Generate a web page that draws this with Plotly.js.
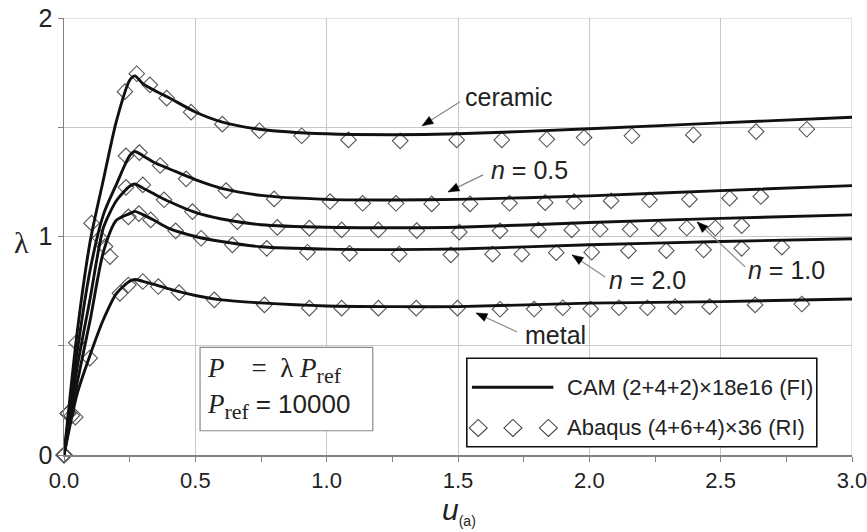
<!DOCTYPE html>
<html>
<head>
<meta charset="utf-8">
<script src="https://cdn.plot.ly/plotly-3.0.1.min.js"></script>
<style>html,body{margin:0;padding:0;background:#fff;}#chart{width:867px;height:532px;}</style>
</head>
<body>
<div id="chart"></div>
<script>
// ---- data ----
const camU = [0, 0.05, 0.1, 0.15, 0.2, 0.25, 0.27, 0.3, 0.35, 0.4, 0.5, 0.6, 0.75, 1.0, 1.25, 1.5, 2.0, 2.5, 3.0];
const camCeramic = [0, 0.56, 0.98, 1.26, 1.53, 1.715, 1.735, 1.70, 1.665, 1.635, 1.57, 1.525, 1.49, 1.47, 1.466, 1.47, 1.493, 1.52, 1.546];
const camN05 = [0, 0.47, 0.85, 1.10, 1.24, 1.37, 1.389, 1.37, 1.335, 1.31, 1.26, 1.22, 1.188, 1.17, 1.167, 1.17, 1.186, 1.21, 1.233];
const camN10 = [0, 0.40, 0.72, 1.04, 1.165, 1.23, 1.24, 1.222, 1.19, 1.16, 1.11, 1.08, 1.054, 1.042, 1.04, 1.042, 1.064, 1.083, 1.099];
const camN20 = [0, 0.33, 0.62, 0.93, 1.075, 1.105, 1.115, 1.10, 1.07, 1.037, 1.0, 0.977, 0.953, 0.942, 0.94, 0.943, 0.962, 0.977, 0.99];
const camMetal = [0, 0.28, 0.46, 0.62, 0.74, 0.795, 0.803, 0.795, 0.779, 0.76, 0.73, 0.71, 0.696, 0.682, 0.679, 0.679, 0.695, 0.702, 0.714];

const abqCeramicU = [0, 0.015, 0.047, 0.105, 0.232, 0.277, 0.327, 0.391, 0.484, 0.603, 0.744, 0.905, 1.083, 1.28, 1.495, 1.667, 1.838, 1.98, 2.162, 2.396, 2.635, 2.828];
const abqCeramicL = [0, 0.19, 0.514, 1.061, 1.663, 1.745, 1.694, 1.633, 1.569, 1.514, 1.484, 1.461, 1.442, 1.438, 1.442, 1.442, 1.445, 1.453, 1.461, 1.465, 1.48, 1.491];
const abqN05U = [0, 0.015, 0.137, 0.236, 0.287, 0.366, 0.465, 0.617, 0.8, 1.013, 1.137, 1.264, 1.4, 1.546, 1.696, 1.832, 1.942, 2.083, 2.229, 2.381, 2.534, 2.653];
const abqN05L = [0, 0.19, 0.993, 1.369, 1.384, 1.325, 1.264, 1.21, 1.172, 1.16, 1.152, 1.152, 1.149, 1.149, 1.152, 1.155, 1.16, 1.163, 1.168, 1.17, 1.175, 1.183];
const abqN10U = [0, 0.015, 0.156, 0.236, 0.3, 0.381, 0.489, 0.66, 0.812, 0.934, 1.057, 1.197, 1.343, 1.505, 1.66, 1.806, 1.933, 2.041, 2.155, 2.263, 2.371, 2.48, 2.58];
const abqN10L = [0, 0.19, 0.954, 1.225, 1.236, 1.168, 1.114, 1.068, 1.042, 1.038, 1.03, 1.03, 1.027, 1.02, 1.026, 1.03, 1.03, 1.033, 1.033, 1.036, 1.039, 1.039, 1.05];
const abqN20U = [0, 0.03, 0.175, 0.245, 0.285, 0.33, 0.425, 0.522, 0.641, 0.772, 0.927, 1.087, 1.276, 1.473, 1.632, 1.743, 1.874, 2.009, 2.149, 2.293, 2.435, 2.58, 2.733];
const abqN20L = [0, 0.18, 0.908, 1.09, 1.105, 1.076, 1.026, 0.992, 0.962, 0.946, 0.928, 0.923, 0.919, 0.916, 0.919, 0.919, 0.926, 0.928, 0.935, 0.935, 0.939, 0.946, 0.951];
const abqMetalU = [0, 0.043, 0.098, 0.213, 0.245, 0.3, 0.359, 0.438, 0.572, 0.763, 0.934, 1.057, 1.197, 1.341, 1.498, 1.66, 1.79, 1.899, 2.005, 2.113, 2.221, 2.327, 2.458, 2.631, 2.809];
const abqMetalL = [0, 0.173, 0.443, 0.74, 0.778, 0.794, 0.771, 0.743, 0.71, 0.687, 0.672, 0.672, 0.672, 0.672, 0.672, 0.667, 0.668, 0.674, 0.668, 0.674, 0.674, 0.679, 0.679, 0.687, 0.691];

const xTickVals = [0, 0.5, 1.0, 1.5, 2.0, 2.5, 3.0];
const yTickVals = [0, 1, 2];
const yTickText = ['0', '1', '2'];
const legendNames = ['CAM (2+4+2)×18e16 (FI)', 'Abaqus (4+6+4)×36 (RI)'];
const curveLabels = ['ceramic', '<i>n</i> = 0.5', '<i>n</i> = 1.0', '<i>n</i> = 2.0', 'metal'];

// ---- traces ----
const SANS = 'Liberation Sans, Arial, sans-serif';
const SERIF = 'Liberation Serif, Times New Roman, serif';
const abq = [[abqCeramicU, abqCeramicL], [abqN05U, abqN05L], [abqN10U, abqN10L], [abqN20U, abqN20L], [abqMetalU, abqMetalL]];
const cam = [camCeramic, camN05, camN10, camN20, camMetal];
const traces = [];
abq.forEach(function (d) {
  traces.push({
    x: d[0], y: d[1], type: 'scatter', mode: 'markers', showlegend: false, cliponaxis: false,
    marker: {symbol: 'diamond-open', size: 12, color: '#555', line: {width: 1.1, color: '#555'}}
  });
});
cam.forEach(function (v) {
  traces.push({
    x: camU, y: v, type: 'scatter', mode: 'lines', showlegend: false,
    line: {color: '#111', width: 2.9, shape: 'spline', smoothing: 0.7}
  });
});

// ---- plot geometry helpers (px per data unit) ----
const PX_X = 788 / 3, PX_Y = 437 / 2;

const ann = [];
const shapes = [
  // top & right frame (light grey like the grid)
  {type: 'line', xref: 'x', yref: 'y', x0: 0, x1: 3, y0: 2, y1: 2, layer: 'between', line: {color: '#c8c8c8', width: 1}},
  {type: 'line', xref: 'x', yref: 'y', x0: 3, x1: 3, y0: 0, y1: 2, layer: 'between', line: {color: '#c8c8c8', width: 1}},
  // P box
  {type: 'rect', xref: 'x', yref: 'y', x0: 0.518, x1: 1.1755, y0: 0.111, y1: 0.493, layer: 'between',
   fillcolor: '#fff', line: {color: '#8a8a8a', width: 1.2}},
  // legend box
  {type: 'rect', xref: 'x', yref: 'y', x0: 1.5335, x1: 2.866, y0: 0.038, y1: 0.4428, layer: 'between',
   fillcolor: '#fff', line: {color: '#111', width: 1.6}},
  {type: 'line', xref: 'x', yref: 'y', x0: 1.553, x1: 1.863, y0: 0.31, y1: 0.31, layer: 'above',
   line: {color: '#111', width: 2.9}}
];
[1.577, 1.709, 1.844].forEach(function (cx) {
  shapes.push({type: 'path', xref: 'x', yref: 'y', xsizemode: 'pixel', ysizemode: 'pixel',
    xanchor: cx, yanchor: 0.124, path: 'M-9,0L0,-8.5L9,0L0,8.5Z', layer: 'above',
    fillcolor: 'rgba(0,0,0,0)', line: {color: '#444', width: 1.1}});
});

// curve labels with leader line + black triangular head
function label(text, tx, ty, tipx, tipy, ax, ay) {
  ann.push({x: tx, y: ty, xref: 'x', yref: 'y', text: text, showarrow: false,
    font: {family: SANS, size: 25, color: '#222'}, xanchor: 'center', yanchor: 'middle'});
  // leader line (ax, ay: screen px offset of tail from tip, y down)
  shapes.push({type: 'line', xref: 'x', yref: 'y', layer: 'above',
    x0: tipx, y0: tipy, x1: tipx + ax / PX_X, y1: tipy - ay / PX_Y,
    line: {color: '#888', width: 1.2}});
  // head: pixel path anchored at tip, y up
  const L = Math.sqrt(ax * ax + ay * ay);
  const ux = -ax / L, uy = ay / L;         // direction tail->tip, y up
  const px = -uy, py = ux;
  const bx = -ux * 11, by = -uy * 11, w = 4.2;
  const p = 'M0,0L' + (bx + px * w).toFixed(2) + ',' + (by + py * w).toFixed(2) +
            'L' + (bx - px * w).toFixed(2) + ',' + (by - py * w).toFixed(2) + 'Z';
  shapes.push({type: 'path', xref: 'x', yref: 'y', xsizemode: 'pixel', ysizemode: 'pixel',
    xanchor: tipx, yanchor: tipy, path: p, layer: 'above', fillcolor: '#000', line: {color: '#000', width: 0.5}});
}
label(curveLabels[0], 1.6946, 1.639, 1.3633, 1.5064, 38, -24);
label(curveLabels[1], 1.7708, 1.305, 1.4623, 1.2042, 35, -17);
label(curveLabels[2], 2.7494, 0.847, 2.4105, 1.0668, 48, 45);
label(curveLabels[3], 2.222, 0.801, 1.9345, 0.9158, 33, 22);
label(curveLabels[4], 1.8698, 0.549, 1.5689, 0.6502, 41, 19);

// P box text
ann.push({x: 0.537, y: 0.385, xref: 'x', yref: 'y', xanchor: 'left', yanchor: 'middle', showarrow: false,
  font: {family: SERIF, size: 27, color: '#222'},
  text: '<i>P</i>\u00a0\u00a0\u00a0\u00a0=\u00a0\u00a0λ <i>P</i><sub><span style="font-size:22px">ref</span></sub>'});
ann.push({x: 0.537, y: 0.22, xref: 'x', yref: 'y', xanchor: 'left', yanchor: 'middle', showarrow: false,
  font: {family: SERIF, size: 27, color: '#222'},
  text: '<i>P</i><sub><span style="font-size:22px">ref</span></sub> <span style="font-family:Liberation Sans, Arial;font-size:26px">= 10000</span>'});

// legend text
ann.push({x: 1.906, y: 0.31, xref: 'x', yref: 'y', xanchor: 'left', yanchor: 'middle', showarrow: false,
  font: {family: SANS, size: 22, color: '#222'}, text: legendNames[0]});
ann.push({x: 1.906, y: 0.124, xref: 'x', yref: 'y', xanchor: 'left', yanchor: 'middle', showarrow: false,
  font: {family: SANS, size: 22, color: '#222'}, text: legendNames[1]});

// axis titles
ann.push({x: -0.0533, y: 0.487, xref: 'paper', yref: 'paper', xanchor: 'center', yanchor: 'middle', showarrow: false,
  font: {family: SERIF, size: 30, color: '#222'}, text: 'λ'});
ann.push({x: 0.501, y: -0.128, xref: 'paper', yref: 'paper', xanchor: 'center', yanchor: 'middle', showarrow: false,
  font: {family: SANS, size: 30, color: '#222'}, text: '<i>u</i><sub><span style="font-size:14px">(a)</span></sub>'});

const layout = {
  width: 867, height: 532,
  margin: {l: 64, r: 15, t: 18, b: 77},
  paper_bgcolor: '#fff', plot_bgcolor: '#fff',
  showlegend: false,
  xaxis: {
    range: [0, 3], tickvals: xTickVals, tickformat: '.1f', ticklabeloverflow: 'allow',
    showgrid: true, gridcolor: '#c8c8c8', gridwidth: 1,
    showline: true, linecolor: '#808080', linewidth: 1.5, zeroline: false,
    ticks: 'outside', ticklen: 5, tickcolor: '#808080', tickwidth: 1,
    tickfont: {family: SANS, size: 22, color: '#222'},
    minor: {dtick: 0.25, tick0: 0, ticks: 'outside', ticklen: 5, tickcolor: '#808080', showgrid: false},
    fixedrange: true
  },
  yaxis: {
    range: [0, 2], tickvals: yTickVals, ticktext: yTickText, ticklabeloverflow: 'allow',
    showgrid: true, gridcolor: '#c8c8c8', gridwidth: 1,
    showline: true, linecolor: '#808080', linewidth: 1.5, zeroline: false,
    ticks: 'outside', ticklen: 5, tickcolor: '#808080', tickwidth: 1,
    tickfont: {family: SANS, size: 25, color: '#222'},
    minor: {dtick: 0.5, tick0: 0, ticks: 'outside', ticklen: 5, tickcolor: '#808080', showgrid: true, gridcolor: '#c8c8c8', gridwidth: 1},
    fixedrange: true
  },
  annotations: ann,
  shapes: shapes
};

Plotly.newPlot('chart', traces, layout, {staticPlot: true});
</script>
</body>
</html>
